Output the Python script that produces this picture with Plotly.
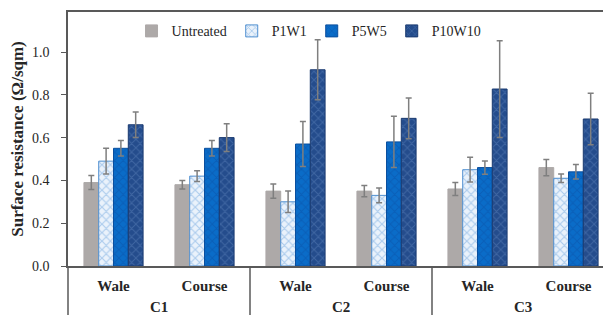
import plotly.graph_objects as go

groups = ["C1", "C1", "C2", "C2", "C3", "C3"]
directions = ["Wale", "Course", "Wale", "Course", "Wale", "Course"]
series_names = ["Untreated", "P1W1", "P5W5", "P10W10"]

untreated = [0.39, 0.38, 0.35, 0.35, 0.36, 0.46]
untreated_err = [0.033, 0.02, 0.033, 0.026, 0.03, 0.038]
p1w1 = [0.49, 0.42, 0.30, 0.33, 0.45, 0.41]
p1w1_err = [0.06, 0.025, 0.05, 0.035, 0.058, 0.02]
p5w5 = [0.55, 0.55, 0.57, 0.58, 0.46, 0.44]
p5w5_err = [0.036, 0.036, 0.105, 0.12, 0.031, 0.034]
p10w10 = [0.66, 0.60, 0.917, 0.69, 0.827, 0.687]
p10w10_err = [0.06, 0.065, 0.14, 0.095, 0.226, 0.12]

values = [untreated, p1w1, p5w5, p10w10]
errors = [untreated_err, p1w1_err, p5w5_err, p10w10_err]

cats = [g + " " + d for g, d in zip(groups, directions)]

styles = [
    dict(color="#ADA9A8", line=dict(color="#ADA9A8", width=1)),
    dict(color="#EAF2FB", line=dict(color="#4F8FD0", width=1),
         pattern=dict(shape="x", fgcolor="#6FA6DE", bgcolor="#EAF2FB", size=6, solidity=0.35)),
    dict(color="#0A6CC8", line=dict(color="#0B4F9E", width=1),
         pattern=dict(shape="x", fgcolor="#0A52A8", bgcolor="#0A6CC8", size=6, solidity=0.3)),
    dict(color="#244C8C", line=dict(color="#1A3A70", width=1),
         pattern=dict(shape="x", fgcolor="#5A80B8", bgcolor="#244C8C", size=6, solidity=0.3)),
]

fig = go.Figure()
for name, v, e, st in zip(series_names, values, errors, styles):
    fig.add_trace(go.Bar(
        x=cats, y=v, name=name, marker=st,
        error_y=dict(type="data", array=e, visible=True, color="#7F7F7F", thickness=1.5, width=3),
    ))

serif = "Liberation Serif, Times New Roman, serif"
axis_col = "#595959"

# group labels and dividers derived from the category list
unique_groups = list(dict.fromkeys(groups))
annotations = []
shapes = [dict(type="line", xref="paper", yref="paper", x0=0, x1=0, y0=0, y1=-0.25,
               line=dict(color=axis_col, width=1.5))]
for g in unique_groups:
    idx = [i for i, gg in enumerate(groups) if gg == g]
    annotations.append(dict(x=sum(idx) / len(idx), y=-0.162, xref="x", yref="paper",
                            text="<b>" + g + "</b>", showarrow=False, yanchor="middle",
                            font=dict(family=serif, size=15, color="#262626")))
    shapes.append(dict(type="line", xref="x", yref="paper", x0=idx[-1] + 0.5, x1=idx[-1] + 0.5,
                       y0=0, y1=-0.25, line=dict(color=axis_col, width=1.5)))

fig.update_layout(
    width=603, height=307,
    margin=dict(l=60, r=0, t=4, b=49),
    paper_bgcolor="white", plot_bgcolor="white",
    barmode="group", bargap=0.35, bargroupgap=0,
    font=dict(family=serif, size=14, color="#262626"),
    showlegend=True,
    legend=dict(orientation="h", x=0.117, y=0.987, xanchor="left", yanchor="top",
                font=dict(family=serif, size=14, color="#262626"),
                bgcolor="rgba(0,0,0,0)", itemwidth=30, tracegroupgap=0),
    annotations=annotations,
    shapes=shapes,
    xaxis=dict(type="category", range=[-0.5, 5.467], automargin=False,
               tickvals=cats, ticktext=directions, ticklabelstandoff=5,
               showline=True, linecolor=axis_col, linewidth=1.5, mirror=True,
               ticks="", showgrid=False,
               tickfont=dict(family=serif, size=15, color="#262626", weight="bold")),
    yaxis=dict(range=[0, 1.187], tickvals=[0, 0.2, 0.4, 0.6, 0.8, 1.0], automargin=False,
               ticktext=["0.0", "0.2", "0.4", "0.6", "0.8", "1.0"],
               showline=True, linecolor=axis_col, linewidth=1.5,
               ticks="outside", ticklen=5, tickcolor=axis_col, ticklabelstandoff=9,
               showgrid=False, zeroline=False,
               tickfont=dict(family=serif, size=14, color="#262626"),
               title=dict(text="Surface resistance (Ω/sqm)", standoff=5,
                          font=dict(family=serif, size=17, color="#262626", weight="bold"))),
)

fig.write_html("out.html")
